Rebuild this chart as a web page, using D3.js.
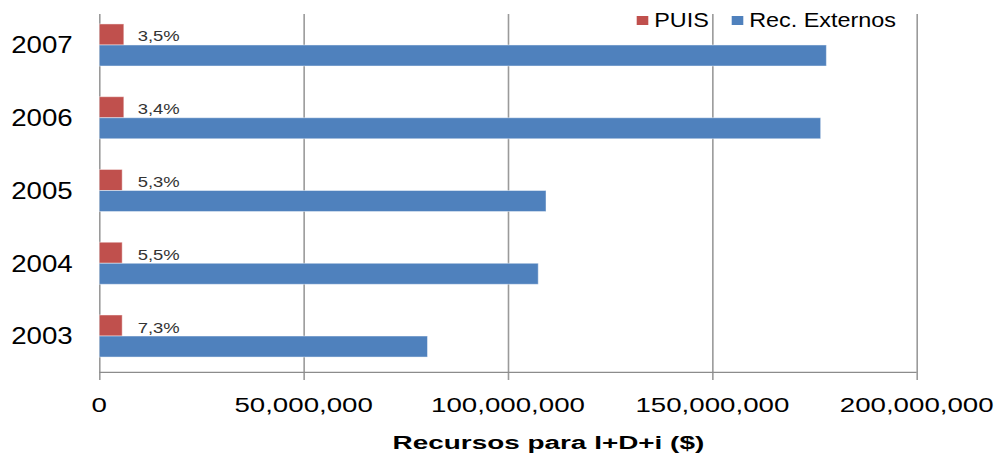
<!DOCTYPE html>
<html>
<head>
<meta charset="utf-8">
<script src="https://cdn.jsdelivr.net/npm/d3@7"></script>
<style>
  body { margin: 0; background: #fff; }
  svg { display: block; font-family: "Liberation Sans", Arial, sans-serif; }
</style>
</head>
<body>
<div id="chart"></div>
<script>
(function() {
    // data (values in $)
    var years = ["2007", "2006", "2005", "2004", "2003"];
    var puis = [6000000, 6000000, 5600000, 5600000, 5600000];
    var externos = [177900000, 176500000, 109300000, 107400000, 80300000];
    var pctLabels = ["3,5%", "3,4%", "5,3%", "5,5%", "7,3%"];
    var xTicks = [0, 50000000, 100000000, 150000000, 200000000];
    var seriesNames = ["PUIS", "Rec. Externos"];
    var seriesColors = ["#C0504D", "#4F81BD"];

    var width = 1000, height = 455;
    var left = 99.3, right = 916.7, top = 8.6, bottom = 372.4;
    var gridTop = 14, gridBottom = 380, axisY = 372.3;

    var svg = d3.select("#chart")
        .append("svg")
        .attr("width", width)
        .attr("height", height);

    var x = d3.scaleLinear().domain([0, 200000000]).range([left, right]);
    var y = d3.scaleBand().domain(years).range([top, bottom]).padding(0);
    var sub = d3.scaleBand().domain(seriesNames).range([0, y.bandwidth()])
        .paddingInner(0).paddingOuter(0.73);

    // horizontally stretched text, like the original picture
    function stretch(sel, sx) {
        sel.attr("transform", function() {
            var t = d3.select(this);
            var tx = +t.attr("x") || 0, ty = +t.attr("y") || 0;
            return "translate(" + tx + "," + ty + ") scale(" + sx + ",1)";
        }).attr("x", 0).attr("y", 0);
    }

    // gridlines (and the little tick marks under the axis)
    var grid = svg.append("g")
        .attr("transform", "translate(0," + gridBottom + ")")
        .call(d3.axisBottom(x).tickValues(xTicks).tickSize(-(gridBottom - gridTop)).tickFormat(""));
    grid.select(".domain").remove();
    grid.selectAll(".tick line").attr("stroke", "#9a9a9a").attr("stroke-width", 1.6);

    // x axis line
    svg.append("line")
        .attr("x1", left).attr("x2", right)
        .attr("y1", axisY).attr("y2", axisY)
        .attr("stroke", "#8c8c8c").attr("stroke-width", 1.3);

    // x tick labels
    var xLab = svg.append("g").selectAll("text")
        .data(xTicks)
        .enter().append("text")
        .attr("x", function(d) { return x(d); })
        .attr("y", 412.3)
        .attr("text-anchor", "middle")
        .attr("font-size", "19.5px")
        .attr("fill", "#000")
        .text(d3.format(","));
    xLab.each(function() { stretch(d3.select(this), 1.42); });

    // year labels
    var yLab = svg.append("g").selectAll("text")
        .data(years)
        .enter().append("text")
        .attr("x", 72.7)
        .attr("y", function(d) { return y(d) + y.bandwidth() / 2 + 8.3; })
        .attr("text-anchor", "end")
        .attr("font-size", "24.5px")
        .attr("fill", "#000")
        .text(function(d) { return d; });
    yLab.each(function() { stretch(d3.select(this), 1.13); });

    // bars
    var rows = years.map(function(yr, i) {
        return { year: yr, values: [puis[i], externos[i]], label: pctLabels[i] };
    });

    var group = svg.selectAll(".year")
        .data(rows)
        .enter().append("g")
        .attr("class", "year")
        .attr("transform", function(d) { return "translate(0," + y(d.year) + ")"; });

    // percentage labels go under the blue bars (2005's is partly covered)
    group.append("text")
        .attr("x", left + 38.4)
        .attr("y", function() { return sub("PUIS") + sub.bandwidth() - 3.5; })
        .attr("font-size", "14.4px")
        .attr("fill", "#333")
        .text(function(d) { return d.label; })
        .each(function() { stretch(d3.select(this), 1.28); });

    group.selectAll("rect")
        .data(function(d) { return d.values.map(function(v, j) { return { v: v, s: seriesNames[j], c: seriesColors[j] }; }); })
        .enter().append("rect")
        .attr("x", x(0))
        .attr("y", function(d) { return sub(d.s); })
        .attr("width", function(d) { return x(d.v) - x(0); })
        .attr("height", sub.bandwidth())
        .attr("fill", function(d) { return d.c; })
        .attr("stroke", "#fff")
        .attr("stroke-opacity", 0.45)
        .attr("stroke-width", 1);

    // legend
    var legendX = [636.7, 731.7];
    var legend = svg.selectAll(".legend")
        .data(seriesNames)
        .enter().append("g")
        .attr("class", "legend");
    legend.append("rect")
        .attr("x", function(d, i) { return legendX[i]; })
        .attr("y", 16)
        .attr("width", 11.6)
        .attr("height", 9)
        .attr("fill", function(d, i) { return seriesColors[i]; });
    legend.append("text")
        .attr("x", function(d, i) { return legendX[i] + 17.5; })
        .attr("y", 27.3)
        .attr("font-size", "19.5px")
        .attr("fill", "#000")
        .text(function(d) { return d; })
        .each(function() { stretch(d3.select(this), 1.2); });

    // axis title
    svg.append("text")
        .attr("x", 548.4)
        .attr("y", 448.5)
        .attr("text-anchor", "middle")
        .attr("font-size", "18.6px")
        .attr("font-weight", "bold")
        .attr("fill", "#000")
        .text("Recursos para I+D+i ($)")
        .call(stretch, 1.5);
})();
</script>
</body>
</html>
